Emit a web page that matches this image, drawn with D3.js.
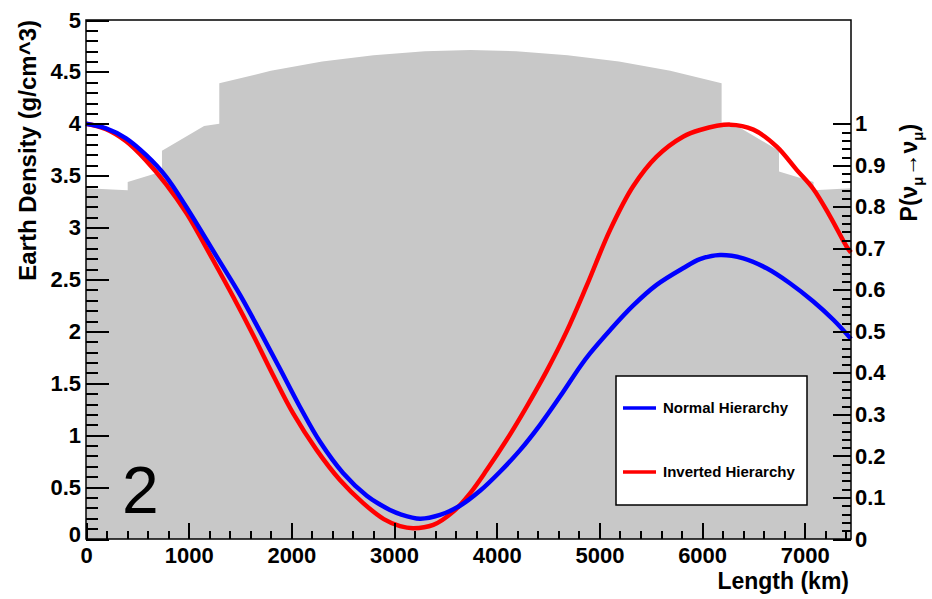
<!DOCTYPE html>
<html>
<head>
<meta charset="utf-8">
<script src="https://cdn.jsdelivr.net/npm/d3@7"></script>
<style>
  body { margin: 0; background: #fff; }
  text { font-family: "Liberation Sans", Arial, Helvetica, sans-serif; }
  .lbl { font-weight: bold; font-size: 22px; fill: #000; }
</style>
</head>
<body>
<svg id="chart" width="932" height="599"></svg>
<script>
// Earth density along the neutrino path (km, g/cm^3)
var densityKm  = [0, 406, 406, 740, 740, 1150, 1298, 1298, 1800, 2300, 2800, 3300, 3745,
                  4190, 4690, 5190, 5690, 6190, 6190, 6340, 6749, 6749, 7085, 7085, 7450];
var densityVal = [3.38, 3.36, 3.44, 3.54, 3.74, 3.98, 4.00, 4.39, 4.51, 4.60, 4.66, 4.70, 4.71,
                  4.70, 4.66, 4.60, 4.51, 4.39, 4.00, 3.98, 3.74, 3.54, 3.44, 3.36, 3.38];

// P(numu -> numu), normal hierarchy
var normalKm = [0, 195, 390, 584, 779, 974, 1273, 1500, 1695, 1889, 2084, 2279, 2503, 2734, 2863,
                2960, 3058, 3253, 3448, 3642, 3837, 4032, 4227, 4422, 4616, 4811, 4908, 5103,
                5327, 5557, 5814, 5979, 6174, 6401, 6629, 6855, 7083, 7278, 7450];
var normalP  = [1.0, 0.989, 0.965, 0.925, 0.873, 0.801, 0.680, 0.588, 0.500, 0.410, 0.318, 0.234, 0.159, 0.104, 0.083,
                0.070, 0.060, 0.049, 0.058, 0.080, 0.116, 0.162, 0.214, 0.275, 0.343, 0.415, 0.447, 0.503,
                0.562, 0.612, 0.652, 0.674, 0.684, 0.676, 0.652, 0.616, 0.572, 0.528, 0.482];

// P(numu -> numu), inverted hierarchy
var invertedKm = [0, 195, 390, 584, 779, 981, 1237, 1432, 1626, 1821, 2016, 2247, 2473, 2697, 2900,
                  3058, 3188, 3382, 3577, 3740, 3902, 4097, 4292, 4487, 4681, 4876, 5103,
                  5327, 5557, 5814, 5979, 6272, 6499, 6727, 6921, 7083, 7246, 7408, 7450];
var invertedP  = [1.0, 0.987, 0.958, 0.912, 0.855, 0.784, 0.672, 0.584, 0.492, 0.395, 0.303, 0.214, 0.142, 0.087, 0.048,
                  0.031, 0.026, 0.034, 0.066, 0.110, 0.166, 0.239, 0.319, 0.405, 0.500, 0.610, 0.744,
                  0.849, 0.921, 0.969, 0.985, 0.998, 0.986, 0.945, 0.889, 0.843, 0.777, 0.704, 0.690];

var seriesNames  = ["Normal Hierarchy", "Inverted Hierarchy"];
var seriesColors = ["#0000ff", "#ff0000"];

var xTicks = [0, 1000, 2000, 3000, 4000, 5000, 6000, 7000];
var densityTicks = [0, 0.5, 1, 1.5, 2, 2.5, 3, 3.5, 4, 4.5, 5];
var probTicks = [0, 0.1, 0.2, 0.3, 0.4, 0.5, 0.6, 0.7, 0.8, 0.9, 1];

(function () {
    var plot = {left: 86, right: 851, top: 20, bottom: 539};

    var svg = d3.select("#chart");

    var xs = d3.scaleLinear().domain([0, 7450]).range([plot.left, plot.right]);
    var yDen = d3.scaleLinear().domain([0, 5]).range([plot.bottom, plot.top]);
    var yProb = d3.scaleLinear().domain([0, 1.25]).range([plot.bottom, plot.top]);

    function steps(lo, hi, step) {
        var out = [];
        for (var v = lo; v <= hi + 1e-9; v += step) out.push(+v.toFixed(4));
        return out;
    }
    var fmt = d3.format("~g");

    // grey density profile
    var densityPts = densityKm.map(function (k, i) { return [k, densityVal[i]]; });
    var densArea = d3.area()
        .x(function (d) { return xs(d[0]); })
        .y0(yDen(0))
        .y1(function (d) { return yDen(d[1]); });
    svg.append("path")
        .datum(densityPts)
        .attr("fill", "#c8c8c8")
        .attr("d", densArea);

    // big panel number
    svg.append("text")
        .attr("x", 122)
        .attr("y", 513)
        .attr("font-size", "66px")
        .attr("fill", "#000")
        .text("2");

    // oscillation curves
    var curveLine = d3.line()
        .x(function (d) { return xs(d[0]); })
        .y(function (d) { return yProb(d[1]); })
        .curve(d3.curveCatmullRom.alpha(0.5));

    var curves = [
        normalKm.map(function (k, i) { return [k, normalP[i]]; }),
        invertedKm.map(function (k, i) { return [k, invertedP[i]]; })
    ];
    var gCurves = svg.append("g");
    [1, 0].forEach(function (i) {
        gCurves.append("path")
            .datum(curves[i])
            .attr("fill", "none")
            .attr("stroke", seriesColors[i])
            .attr("stroke-width", 4.5)
            .attr("d", curveLine);
    });

    // legend
    var leg = svg.append("g").attr("transform", "translate(616,376)");
    leg.append("rect")
        .attr("width", 191).attr("height", 129)
        .attr("fill", "#fff").attr("stroke", "#000").attr("stroke-width", 1.5);
    seriesNames.forEach(function (name, i) {
        var yy = 32 + i * 64;
        leg.append("line")
            .attr("x1", 7).attr("x2", 40).attr("y1", yy).attr("y2", yy)
            .attr("stroke", seriesColors[i]).attr("stroke-width", 3.5);
        leg.append("text")
            .attr("x", 47).attr("y", yy + 5)
            .attr("font-size", "15px").attr("font-weight", "bold")
            .text(name);
    });

    // frame
    svg.append("rect")
        .attr("x", plot.left).attr("y", plot.top)
        .attr("width", plot.right - plot.left).attr("height", plot.bottom - plot.top)
        .attr("fill", "none").attr("stroke", "#000").attr("stroke-width", 1.5);

    // axes: separate groups for minor and major ticks, ticks pointing inward
    function axisGroup(axis, tx, ty) {
        var g = svg.append("g")
            .attr("transform", "translate(" + tx + "," + ty + ")")
            .attr("shape-rendering", "crispEdges")
            .call(axis);
        g.select(".domain").remove();
        g.selectAll(".tick line").attr("stroke", "#000").attr("stroke-width", 2);
        g.selectAll(".tick text").attr("class", "lbl").attr("font-size", null).attr("font-family", null);
        return g;
    }

    axisGroup(d3.axisBottom(xs).tickValues(steps(0, 7400, 200)).tickSizeInner(-8).tickSizeOuter(0).tickFormat(""), 0, plot.bottom);
    axisGroup(d3.axisBottom(xs).tickValues(xTicks).tickSizeInner(-16).tickSizeOuter(0).tickPadding(8).tickFormat(fmt), 0, plot.bottom);

    axisGroup(d3.axisLeft(yDen).tickValues(steps(0, 5, 0.1)).tickSizeInner(-12).tickSizeOuter(0).tickFormat(""), plot.left, 0);
    var gl = axisGroup(d3.axisLeft(yDen).tickValues(densityTicks).tickSizeInner(-23).tickSizeOuter(0).tickPadding(5).tickFormat(fmt), plot.left, 0);
    gl.selectAll(".tick text").filter(function (d) { return d === 0; }).attr("dy", "0.1em");

    axisGroup(d3.axisRight(yProb).tickValues(steps(0, 1, 0.02)).tickSizeInner(-9).tickSizeOuter(0).tickFormat(""), plot.right, 0);
    axisGroup(d3.axisRight(yProb).tickValues(probTicks).tickSizeInner(-18).tickSizeOuter(0).tickPadding(4).tickFormat(fmt), plot.right, 0);

    // axis titles
    svg.append("text")
        .attr("transform", "translate(36," + plot.top + ") rotate(-90)")
        .attr("text-anchor", "end")
        .attr("font-size", "24px").attr("font-weight", "bold")
        .text("Earth Density (g/cm^3)");

    svg.append("text")
        .attr("x", plot.right - 2).attr("y", 589)
        .attr("text-anchor", "end")
        .attr("font-size", "23px").attr("font-weight", "bold")
        .text("Length (km)");

    var rt = svg.append("text")
        .attr("transform", "translate(917," + yProb(1) + ") rotate(-90)")
        .attr("text-anchor", "end")
        .attr("font-size", "23px").attr("font-weight", "bold");
    rt.append("tspan").text("P(\u03bd");
    rt.append("tspan").attr("font-size", "15px").attr("dy", 6).text("\u03bc");
    rt.append("tspan").attr("dy", -6).text("\u2192\u03bd");
    rt.append("tspan").attr("font-size", "15px").attr("dy", 6).text("\u03bc");
    rt.append("tspan").attr("dy", -6).text(")");
})();
</script>
</body>
</html>
